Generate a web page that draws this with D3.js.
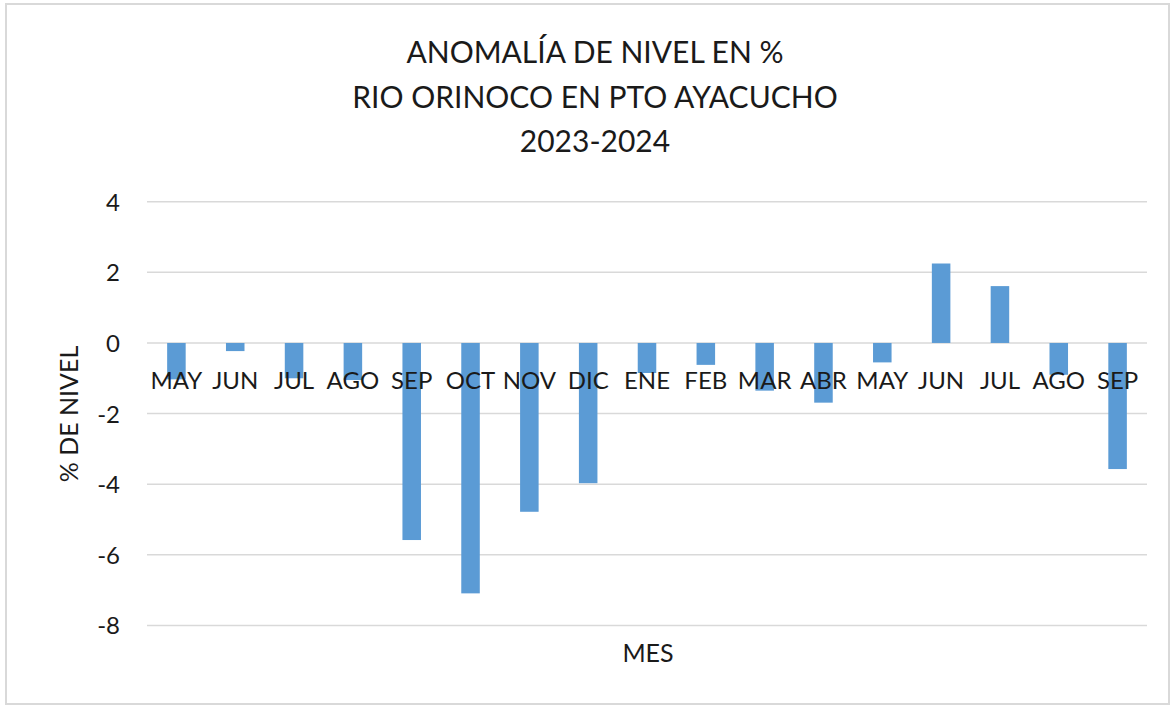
<!DOCTYPE html>
<html><head><meta charset="utf-8">
<script src="https://cdn.jsdelivr.net/npm/d3@7"></script>
<style>body{margin:0;background:#fff}svg{display:block}text{font-family:Lato,"Open Sans",sans-serif;fill:#1a1a1a}</style>
</head><body><svg id="c" width="1174" height="708"></svg>
<script>
const months = ["MAY","JUN","JUL","AGO","SEP","OCT","NOV","DIC","ENE","FEB","MAR","ABR","MAY","JUN","JUL","AGO","SEP"];
const anomaly = [-1.03,-0.23,-1.0,-1.05,-5.58,-7.09,-4.78,-3.97,-0.85,-0.62,-1.35,-1.69,-0.55,2.25,1.61,-0.9,-3.57];
const yTicks = [4,2,0,-2,-4,-6,-8];
const titleLines = ["ANOMALÍA DE NIVEL EN %","RIO ORINOCO EN PTO AYACUCHO","2023-2024"];
const yTitle = "% DE NIVEL";
const xTitle = "MES";

const svg = d3.select("#c");
svg.append("rect").attr("x",6).attr("y",4).attr("width",1163).attr("height",700)
  .attr("fill","#fff").attr("stroke","#d9d9d9").attr("stroke-width",2);

const x = d3.scaleBand().domain(d3.range(months.length)).range([147,1147]).paddingInner(0.685).paddingOuter(0.3425);
const y = d3.scaleLinear().domain([-8,4]).range([625.5,201.7]);

// gridlines
svg.append("g").selectAll("line").data(yTicks).join("line")
  .attr("x1",147).attr("x2",1147).attr("y1",d=>y(d)).attr("y2",d=>y(d))
  .attr("stroke","#d9d9d9").attr("stroke-width",1.5);

// y axis labels
const yAxis = d3.axisLeft(y).tickValues(yTicks).tickSize(0).tickPadding(0).tickFormat(d=>d<0?"-"+Math.abs(d):d);
const gy = svg.append("g").attr("transform","translate(120,0)").call(yAxis);
gy.select(".domain").remove();
gy.selectAll("text").style("font-size","24px").attr("fill","#1a1a1a").attr("dy","0.35em").style("font-family","Lato");

// bars
svg.append("g").selectAll("rect").data(anomaly).join("rect")
  .attr("x",(d,i)=>x(i)).attr("width",x.bandwidth())
  .attr("y",d=>y(Math.max(0,d))).attr("height",d=>Math.abs(y(d)-y(0)))
  .attr("fill","#5b9bd5");

// x labels (drawn over bars, near zero line)
const xAxis = d3.axisBottom(x).tickSize(0).tickPadding(0).tickFormat(i=>months[i]);
const gx = svg.append("g").attr("transform",`translate(0,${y(0)})`).call(xAxis);
gx.select(".domain").remove();
gx.selectAll("text").style("font-size","24px").attr("fill","#1a1a1a").attr("dy",0).attr("y",46).style("font-family","Lato");

// title
svg.append("g").selectAll("text").data(titleLines).join("text")
  .attr("x",595).attr("y",(d,i)=>63+i*44.5).attr("text-anchor","middle")
  .style("font-size","30px").text(d=>d);

// axis titles
svg.append("text").attr("transform","translate(78,414) rotate(-90)").attr("text-anchor","middle")
  .style("font-size","25px").text(yTitle);
svg.append("text").attr("x",648).attr("y",662).attr("text-anchor","middle")
  .style("font-size","25px").text(xTitle);
</script></body></html>
